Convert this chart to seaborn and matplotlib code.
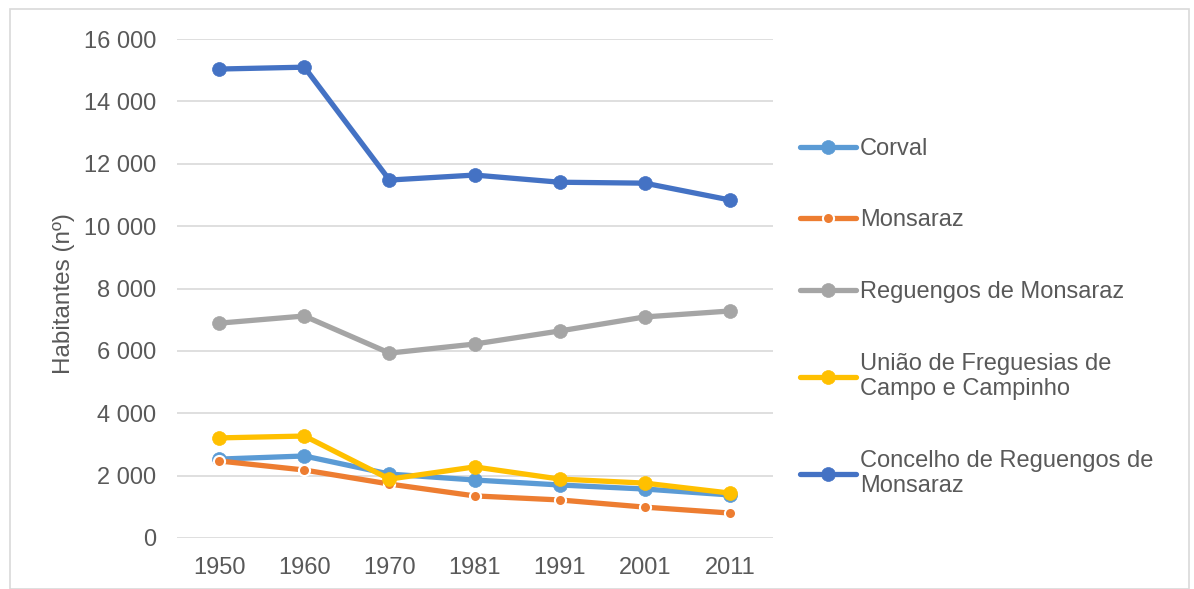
import matplotlib
matplotlib.use('Agg')
import matplotlib.pyplot as plt
import seaborn as sns
import pandas as pd
from matplotlib.patches import Rectangle
from matplotlib.ticker import FuncFormatter

# ── Data ─────────────────────────────────────────────────────────────────────
years = ['1950', '1960', '1970', '1981', '1991', '2001', '2011']
corval = [2530, 2630, 2050, 1860, 1700, 1570, 1380]
monsaraz = [2470, 2180, 1730, 1350, 1220, 990, 800]
reguengos = [6890, 7120, 5930, 6220, 6640, 7090, 7280]
campo = [3210, 3270, 1890, 2280, 1890, 1760, 1440]
concelho = [15040, 15100, 11480, 11640, 11410, 11380, 10840]

series_names = ['Corval', 'Monsaraz', 'Reguengos de Monsaraz',
                'União de Freguesias de\nCampo e Campinho',
                'Concelho de Reguengos de\nMonsaraz']
series_vals = [corval, monsaraz, reguengos, campo, concelho]
colors = ['#5B9BD5', '#ED7D31', '#A5A5A5', '#FFC000', '#4472C4']

sns.set_style('white')
plt.rcParams['font.family'] = ['Liberation Sans', 'DejaVu Sans']
TXT = '#595959'
FS = 17

fig = plt.figure(figsize=(11.94, 5.89), dpi=100)
ax = fig.add_axes([0.148, 0.0866, 0.499, 0.847])

for name, vals, col in zip(series_names, series_vals, colors):
    small = name == 'Monsaraz'
    df = pd.DataFrame({'Ano': years, 'Habitantes': vals})
    sns.lineplot(data=df, x='Ano', y='Habitantes', ax=ax, color=col,
                 linewidth=3.8, marker='o',
                 markersize=8 if small else 10,
                 markeredgecolor='white' if small else col,
                 markeredgewidth=1.5 if small else 0.5,
                 label=name, sort=False)

ax.set_ylim(0, 16000)
ax.set_xlim(-0.5, len(years) - 0.5)
ax.set_yticks(range(0, 16001, 2000))
ax.yaxis.set_major_formatter(FuncFormatter(lambda v, p: f'{int(v):,}'.replace(',', ' ')))
ax.grid(axis='y', color='#D9D9D9', linewidth=1.2)
ax.set_axisbelow(True)
for s in ax.spines.values():
    s.set_visible(False)
ax.tick_params(axis='both', length=0, labelsize=FS, colors=TXT)
ax.tick_params(axis='y', pad=15)
ax.tick_params(axis='x', pad=14)
ax.set_xlabel('')
ax.set_ylabel('Habitantes (nº)', fontsize=17.5, color=TXT)
ax.yaxis.set_label_coords(-0.17, 0.49)

leg = ax.legend(loc='upper left', bbox_to_anchor=(0.662, 0.782),
                bbox_transform=fig.transFigure, frameon=False,
                fontsize=FS, labelcolor=TXT, handlelength=2.37,
                handletextpad=0.17, labelspacing=2.1, borderaxespad=0)

fig.add_artist(Rectangle((0.008, 0.0), 0.988, 0.985, transform=fig.transFigure,
                         fill=False, edgecolor='#D9D9D9', linewidth=1.2))

plt.savefig('out.png', dpi=100)
plt.close()
